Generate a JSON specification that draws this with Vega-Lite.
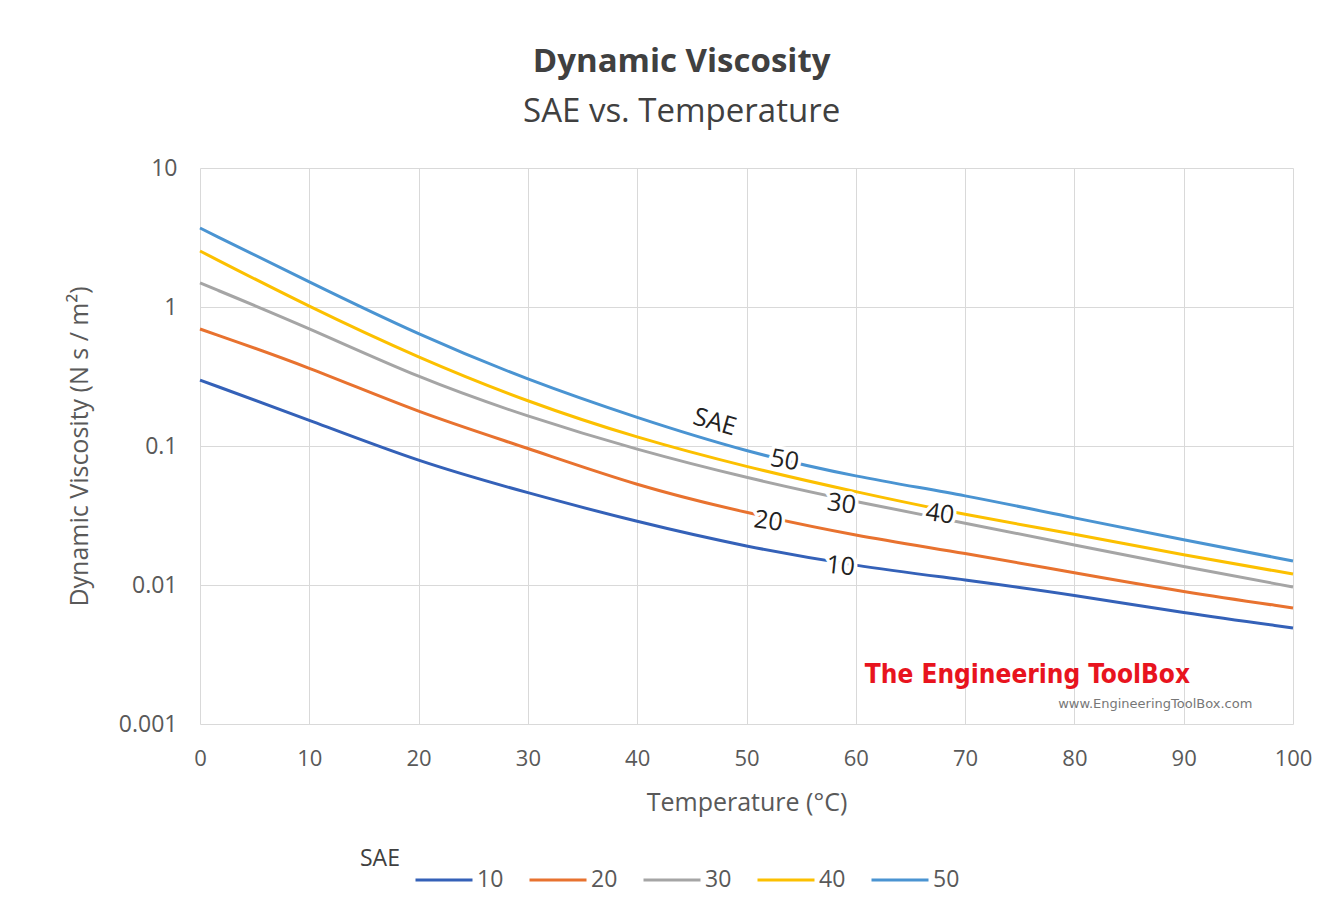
{
  "$schema": "https://vega.github.io/schema/vega-lite/v6.json",
  "autosize": {"type": "none"},
  "width": 1093,
  "height": 556,
  "padding": {"left": 200, "top": 168, "right": 26, "bottom": 189},
  "background": "#ffffff",
  "title": {
    "text": "Dynamic Viscosity",
    "subtitle": "SAE vs. Temperature",
    "frame": "bounds",
    "anchor": "middle",
    "dx": -8,
    "font": "Open Sans",
    "fontSize": 33,
    "fontWeight": "bold",
    "color": "#404040",
    "subtitleFont": "Open Sans",
    "subtitleFontSize": 33,
    "subtitleColor": "#404040",
    "subtitlePadding": 17,
    "offset": 28
  },
  "datasets": {
    "curves": [
      {"T": 0, "SAE": "10", "mu": 0.298}, {"T": 10, "SAE": "10", "mu": 0.154}, {"T": 20, "SAE": "10", "mu": 0.0767}, {"T": 30, "SAE": "10", "mu": 0.0459}, {"T": 40, "SAE": "10", "mu": 0.0284}, {"T": 50, "SAE": "10", "mu": 0.0188}, {"T": 60, "SAE": "10", "mu": 0.0137}, {"T": 70, "SAE": "10", "mu": 0.0109}, {"T": 80, "SAE": "10", "mu": 0.00848}, {"T": 90, "SAE": "10", "mu": 0.00629}, {"T": 100, "SAE": "10", "mu": 0.00491},
      {"T": 0, "SAE": "20", "mu": 0.695}, {"T": 10, "SAE": "20", "mu": 0.37}, {"T": 20, "SAE": "20", "mu": 0.173}, {"T": 30, "SAE": "20", "mu": 0.0968}, {"T": 40, "SAE": "20", "mu": 0.0515}, {"T": 50, "SAE": "20", "mu": 0.033}, {"T": 60, "SAE": "20", "mu": 0.0225}, {"T": 70, "SAE": "20", "mu": 0.017}, {"T": 80, "SAE": "20", "mu": 0.0122}, {"T": 90, "SAE": "20", "mu": 0.00891}, {"T": 100, "SAE": "20", "mu": 0.00684},
      {"T": 0, "SAE": "30", "mu": 1.49}, {"T": 10, "SAE": "30", "mu": 0.706}, {"T": 20, "SAE": "30", "mu": 0.308}, {"T": 30, "SAE": "30", "mu": 0.162}, {"T": 40, "SAE": "30", "mu": 0.0936}, {"T": 50, "SAE": "30", "mu": 0.0589}, {"T": 60, "SAE": "30", "mu": 0.0396}, {"T": 70, "SAE": "30", "mu": 0.0279}, {"T": 80, "SAE": "30", "mu": 0.0194}, {"T": 90, "SAE": "30", "mu": 0.0135}, {"T": 100, "SAE": "30", "mu": 0.00968},
      {"T": 0, "SAE": "40", "mu": 2.53}, {"T": 10, "SAE": "40", "mu": 1.0}, {"T": 20, "SAE": "40", "mu": 0.43}, {"T": 30, "SAE": "40", "mu": 0.207}, {"T": 40, "SAE": "40", "mu": 0.114}, {"T": 50, "SAE": "40", "mu": 0.0706}, {"T": 60, "SAE": "40", "mu": 0.0467}, {"T": 70, "SAE": "40", "mu": 0.0319}, {"T": 80, "SAE": "40", "mu": 0.0233}, {"T": 90, "SAE": "40", "mu": 0.0164}, {"T": 100, "SAE": "40", "mu": 0.012},
      {"T": 0, "SAE": "50", "mu": 3.7}, {"T": 10, "SAE": "50", "mu": 1.51}, {"T": 20, "SAE": "50", "mu": 0.629}, {"T": 30, "SAE": "50", "mu": 0.298}, {"T": 40, "SAE": "50", "mu": 0.159}, {"T": 50, "SAE": "50", "mu": 0.0906}, {"T": 60, "SAE": "50", "mu": 0.0598}, {"T": 70, "SAE": "50", "mu": 0.0444}, {"T": 80, "SAE": "50", "mu": 0.0303}, {"T": 90, "SAE": "50", "mu": 0.0211}, {"T": 100, "SAE": "50", "mu": 0.0149}
    ],
    "labels": [
      {"T": 47.1, "mu": 0.149, "label": "SAE", "style": "italic", "angle": 16},
      {"T": 53.5, "mu": 0.0793, "label": "50", "style": "normal", "angle": 10},
      {"T": 58.7, "mu": 0.0383, "label": "30", "style": "normal", "angle": 8},
      {"T": 67.7, "mu": 0.0325, "label": "40", "style": "normal", "angle": 8},
      {"T": 52.0, "mu": 0.0288, "label": "20", "style": "normal", "angle": 8},
      {"T": 58.6, "mu": 0.0137, "label": "10", "style": "normal", "angle": 6}
    ],
    "brand": [
      {"T": 75.7, "mu": 0.00225, "label": "The Engineering ToolBox"}
    ],
    "brandurl": [
      {"T": 87.4, "mu": 0.00139, "label": "www.EngineeringToolBox.com"}
    ]
  },
  "layer": [
    {
      "data": {"name": "curves"},
      "mark": {"type": "line", "strokeWidth": 3, "interpolate": "basis"},
      "encoding": {
        "x": {
          "field": "T", "type": "quantitative",
          "scale": {"domain": [0, 100], "nice": false},
          "axis": {
            "title": "Temperature (°C)",
            "values": [0, 10, 20, 30, 40, 50, 60, 70, 80, 90, 100],
            "grid": true, "gridColor": "#d9d9d9", "gridWidth": 1,
            "domain": false, "ticks": false, "labelFlush": false,
            "labelFont": "Open Sans", "labelFontSize": 22, "labelColor": "#595959", "labelPadding": 24,
            "titleFont": "Open Sans", "titleFontSize": 25, "titleFontWeight": "normal", "titleColor": "#595959", "titlePadding": 21
          }
        },
        "y": {
          "field": "mu", "type": "quantitative",
          "scale": {"type": "log", "domain": [0.001, 10], "nice": false},
          "axis": {
            "title": "Dynamic Viscosity (N s / m²)",
            "values": [0.001, 0.01, 0.1, 1, 10],
            "format": "~g",
            "grid": true, "gridColor": "#d9d9d9", "gridWidth": 1,
            "domain": false, "ticks": false, "labelFlush": false,
            "labelFont": "Open Sans", "labelFontSize": 23, "labelColor": "#595959", "labelPadding": 23,
            "titleFont": "Open Sans", "titleFontSize": 25, "titleFontWeight": "normal", "titleColor": "#595959", "titlePadding": 26
          }
        },
        "color": {
          "field": "SAE", "type": "nominal",
          "scale": {"domain": ["10", "20", "30", "40", "50"], "range": ["#3461b8", "#e8722f", "#a5a5a5", "#fcc000", "#4a94d2"]},
          "legend": {
            "title": "SAE",
            "orient": "none",
            "legendX": 160,
            "legendY": 682,
            "direction": "horizontal",
            "columns": 5,
            "titleOrient": "left",
            "titleFont": "Open Sans", "titleFontSize": 23, "titleFontWeight": "normal", "titleColor": "#404040", "titleBaseline": "bottom", "titlePadding": 14,
            "symbolType": "stroke", "symbolSize": 3249, "symbolStrokeWidth": 3,
            "labelFont": "Open Sans", "labelFontSize": 23, "labelColor": "#595959", "labelOffset": 3,
            "columnPadding": 19
          }
        }
      }
    },
    {
      "data": {"name": "labels"},
      "mark": {"type": "text", "font": "Open Sans", "fontSize": 25, "stroke": "#ffffff", "strokeWidth": 7, "fill": "#ffffff"},
      "encoding": {
        "x": {"field": "T", "type": "quantitative"},
        "y": {"field": "mu", "type": "quantitative"},
        "text": {"field": "label"},
        "angle": {"field": "angle", "type": "quantitative", "scale": null}
      }
    },
    {
      "data": {"name": "labels"},
      "mark": {"type": "text", "font": "Open Sans", "fontSize": 25, "fill": "#222222"},
      "encoding": {
        "x": {"field": "T", "type": "quantitative"},
        "y": {"field": "mu", "type": "quantitative"},
        "text": {"field": "label"},
        "angle": {"field": "angle", "type": "quantitative", "scale": null},
        "fontStyle": {"field": "style", "type": "nominal", "scale": null}
      }
    },
    {
      "data": {"name": "brand"},
      "mark": {"type": "text", "font": "DejaVu Sans Condensed", "fontSize": 26, "fontWeight": "bold", "fill": "#e8141e"},
      "encoding": {
        "x": {"field": "T", "type": "quantitative"},
        "y": {"field": "mu", "type": "quantitative"},
        "text": {"field": "label"}
      }
    },
    {
      "data": {"name": "brandurl"},
      "mark": {"type": "text", "font": "DejaVu Sans", "fontSize": 13, "fill": "#777777"},
      "encoding": {
        "x": {"field": "T", "type": "quantitative"},
        "y": {"field": "mu", "type": "quantitative"},
        "text": {"field": "label"}
      }
    }
  ],
  "config": {
    "view": {"stroke": null}
  }
}
